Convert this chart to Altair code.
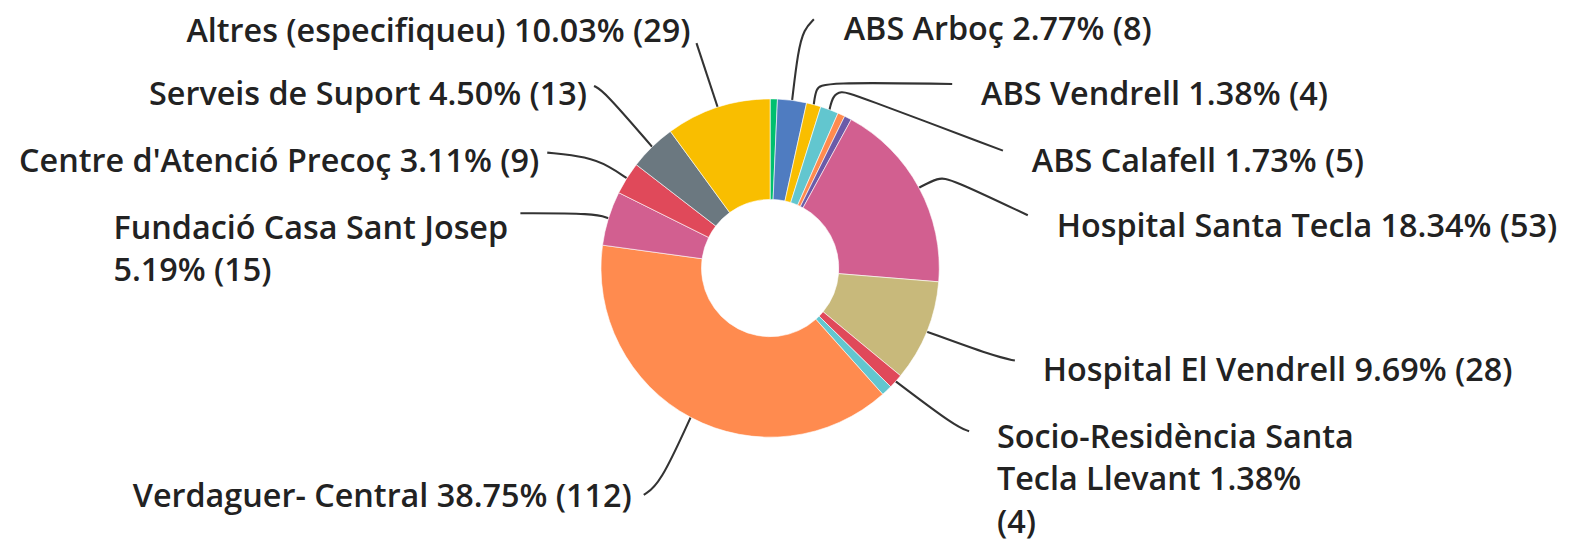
import math
import altair as alt
import pandas as pd

# ---------------- data ----------------
names = [
    "Sense etiqueta (verd)",
    "ABS Arboç",
    "ABS Vendrell",
    "ABS Calafell",
    "Sense etiqueta (taronja)",
    "Sense etiqueta (lila)",
    "Hospital Santa Tecla",
    "Hospital El Vendrell",
    "Socio-Residència Santa Tecla Llevant",
    "Sense etiqueta (turquesa)",
    "Verdaguer- Central",
    "Fundació Casa Sant Josep",
    "Centre d'Atenció Precoç",
    "Serveis de Suport",
    "Altres (especifiqueu)",
]
counts = [2, 8, 4, 5, 2, 2, 53, 28, 4, 3, 112, 15, 9, 13, 29]
colors = [
    "#00BF6F", "#4F7CC1", "#F9BE00", "#62C6CF", "#FF8B4F", "#6B5BA8",
    "#D25F90", "#C8B97B", "#E0495A", "#62C6CF", "#FF8B4F", "#D25F90",
    "#E0495A", "#6B7880", "#F9BE00",
]
# displayed label text (line breaks as in the picture)
label_text = {
    "ABS Arboç": "ABS Arboç 2.77% (8)",
    "ABS Vendrell": "ABS Vendrell 1.38% (4)",
    "ABS Calafell": "ABS Calafell 1.73% (5)",
    "Hospital Santa Tecla": "Hospital Santa Tecla 18.34% (53)",
    "Hospital El Vendrell": "Hospital El Vendrell 9.69% (28)",
    "Socio-Residència Santa Tecla Llevant": "Socio-Residència Santa\nTecla Llevant 1.38%\n(4)",
    "Verdaguer- Central": "Verdaguer- Central 38.75% (112)",
    "Fundació Casa Sant Josep": "Fundació Casa Sant Josep\n5.19% (15)",
    "Centre d'Atenció Precoç": "Centre d'Atenció Precoç 3.11% (9)",
    "Serveis de Suport": "Serveis de Suport 4.50% (13)",
    "Altres (especifiqueu)": "Altres (especifiqueu) 10.03% (29)",
}

# ---------------- layout (page pixels) ----------------
OFF = 8
W, H = 1578, 535
CX, CY = 774, 268
R_OUT, R_IN = 170, 69
FONT = "Open Sans"
FS = 32.5

label_pos = {  # x, baseline y, align
    "ABS Arboç": (848, 39, "left"),
    "ABS Vendrell": (986, 104, "left"),
    "ABS Calafell": (1037, 171, "left"),
    "Hospital Santa Tecla": (1062, 237, "left"),
    "Hospital El Vendrell": (1048, 382, "left"),
    "Socio-Residència Santa Tecla Llevant": (1002, 449, "left"),
    "Verdaguer- Central": (635, 508, "right"),
    "Fundació Casa Sant Josep": (114, 239, "left"),
    "Centre d'Atenció Precoç": (542, 171, "right"),
    "Serveis de Suport": (590, 104, "right"),
    "Altres (especifiqueu)": (694, 41, "right"),
}
leader_way = {  # waypoints after the slice edge point
    "ABS Arboç": [(802, 50), (808, 28), (818, 18)],
    "ABS Vendrell": [(820, 88), (827, 81), (957, 83)],
    "ABS Calafell": [(837, 95), (845, 90), (857, 93), (1008, 150)],
    "Hospital Santa Tecla": [(943, 177), (955, 178), (1033, 215)],
    "Hospital El Vendrell": [(1000, 357), (1020, 361)],
    "Socio-Residència Santa Tecla Llevant": [(960, 427), (974, 432)],
    "Verdaguer- Central": [(663, 486), (647, 496)],
    "Fundació Casa Sant Josep": [(598, 213), (523, 213)],
    "Centre d'Atenció Precoç": [(613, 166), (590, 156), (550, 152)],
    "Serveis de Suport": [(607, 90), (597, 85)],
    "Altres (especifiqueu)": [(700, 42)],
}

# ---------------- tables ----------------
total = sum(counts)
slices = pd.DataFrame({"idx": range(len(names)), "name": names, "count": counts})

line_rows = []
cum = 0
for name, c in zip(names, counts):
    mid = (cum + c / 2) / total * 2 * math.pi
    cum += c
    if name not in leader_way:
        continue
    sx = CX + R_OUT * math.sin(mid)
    sy = CY - R_OUT * math.cos(mid)
    pts = [(sx, sy)] + leader_way[name]
    for k, (px, py) in enumerate(pts):
        line_rows.append({"name": name, "k": k, "x": px - OFF, "y": py - OFF})
lines = pd.DataFrame(line_rows)

labels = pd.DataFrame([
    {"name": n, "label": label_text[n], "x": p[0] - OFF, "y": p[1] - OFF, "align": p[2]}
    for n, p in label_pos.items()
])

xs = alt.Scale(domain=[0, W], range=[0, W], nice=False, zero=False)
ys = alt.Scale(domain=[0, H], range=[0, H], nice=False, zero=False)

arcs = alt.Chart(slices).mark_arc(
    innerRadius=R_IN, outerRadius=R_OUT, stroke="white", strokeWidth=0.6
).encode(
    theta=alt.Theta("count:Q", stack=True),
    color=alt.Color("name:N", scale=alt.Scale(domain=names, range=colors), legend=None),
    order=alt.Order("idx:Q", sort="ascending"),
    x=alt.value(CX - OFF),
    y=alt.value(CY - OFF),
)

leaders = alt.Chart(lines).mark_line(
    color="#333333", strokeWidth=2.1, interpolate="basis"
).encode(
    x=alt.X("x:Q", scale=xs, axis=None),
    y=alt.Y("y:Q", scale=ys, axis=None),
    detail="name:N",
    order="k:Q",
)

def text_layer(al):
    return alt.Chart(labels).transform_filter(
        alt.datum.align == al
    ).mark_text(
        align=al, baseline="alphabetic", font=FONT, fontSize=FS, fontWeight=600,
        color="#222222", lineBreak="\n", lineHeight=42.5,
    ).encode(
        x=alt.X("x:Q", scale=xs, axis=None),
        y=alt.Y("y:Q", scale=ys, axis=None),
        text="label:N",
    )

chart = alt.layer(leaders, arcs, text_layer("left"), text_layer("right")).properties(
    width=W, height=H, autosize="none", padding=0
).configure_view(stroke=None)

chart.save("out.html", embed_options={"renderer": "svg", "actions": False})
